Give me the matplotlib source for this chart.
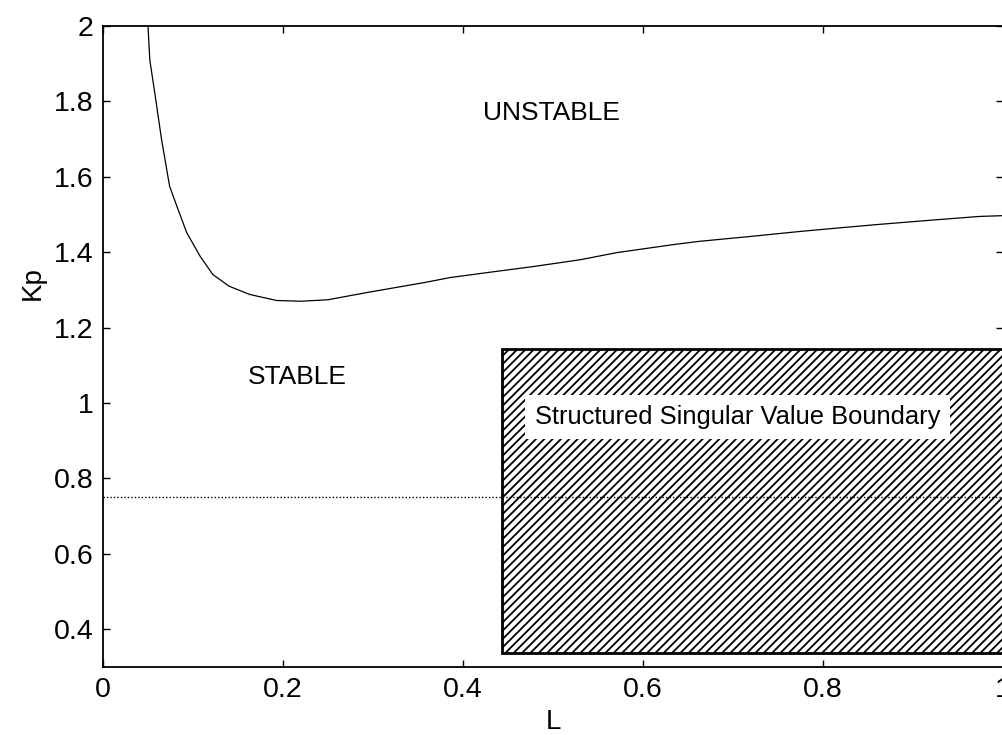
import matplotlib
matplotlib.use("Agg")
import matplotlib.pyplot as plt
from matplotlib.patches import Rectangle

# ---- data ----
L_vals = [0.050, 0.052, 0.058, 0.065, 0.074, 0.083, 0.093, 0.108, 0.122, 0.140,
          0.163, 0.193, 0.220, 0.250, 0.293, 0.358, 0.386, 0.430, 0.478, 0.530,
          0.571, 0.636, 0.663, 0.720, 0.774, 0.820, 0.863, 0.920, 0.974, 1.000]
Kp_vals = [2.000, 1.910, 1.815, 1.700, 1.575, 1.516, 1.452, 1.389, 1.341, 1.310,
           1.288, 1.272, 1.270, 1.274, 1.293, 1.320, 1.333, 1.347, 1.362, 1.380,
           1.399, 1.421, 1.429, 1.442, 1.455, 1.465, 1.474, 1.485, 1.495, 1.497]
ssv_level = 0.75
box_L = [0.443, 1.0]
box_Kp = [0.336, 1.143]
x_ticks = [0, 0.2, 0.4, 0.6, 0.8, 1]
x_ticklabels = ["0", "0.2", "0.4", "0.6", "0.8", "1"]
y_ticks = [0.4, 0.6, 0.8, 1.0, 1.2, 1.4, 1.6, 1.8, 2.0]
y_ticklabels = ["0.4", "0.6", "0.8", "1", "1.2", "1.4", "1.6", "1.8", "2"]

plt.rcParams['font.family'] = ['Liberation Sans', 'DejaVu Sans']
plt.rcParams['hatch.linewidth'] = 1.3

fig = plt.figure(figsize=(10.02, 7.35), dpi=100)
ax = fig.add_axes([103/1002, 68/735, 900/1002, 641/735])

ax.plot(L_vals, Kp_vals, color='black', lw=0.9, zorder=3)

rect = Rectangle((box_L[0], box_Kp[0]), box_L[1]-box_L[0], box_Kp[1]-box_Kp[0],
                 facecolor='white', edgecolor='black', hatch='////', lw=2.0, zorder=2)
ax.add_patch(rect)

ax.axhline(ssv_level, color='black', lw=1.0, ls=(0, (1, 1.5)), zorder=4)

ax.text(0.498, 1.77, "UNSTABLE", fontsize=19, ha='center', va='center', zorder=5)
ax.text(0.216, 1.069, "STABLE", fontsize=19, ha='center', va='center', zorder=5)
ax.text(0.705, 0.963, "Structured Singular Value Boundary", fontsize=18.4,
        ha='center', va='center', zorder=6,
        bbox=dict(boxstyle='square,pad=0.38', facecolor='white', edgecolor='none'))

ax.set_xlim(0, 1)
ax.set_ylim(0.3, 2)
ax.set_xticks(x_ticks)
ax.set_xticklabels(x_ticklabels)
ax.set_yticks(y_ticks)
ax.set_yticklabels(y_ticklabels)
ax.tick_params(direction='in', length=5, width=1, top=True, right=True,
               labelsize=20.5)
ax.tick_params(axis='x', pad=7)
ax.tick_params(axis='y', pad=7)
for s in ax.spines.values():
    s.set_linewidth(1.3)

ax.set_xlabel("L", fontsize=20)
ax.xaxis.set_label_coords(0.5, -0.066)
ax.set_ylabel("Kp", fontsize=20)
ax.yaxis.set_label_coords(-0.064, 0.599)

fig.savefig("out.png", dpi=100)
